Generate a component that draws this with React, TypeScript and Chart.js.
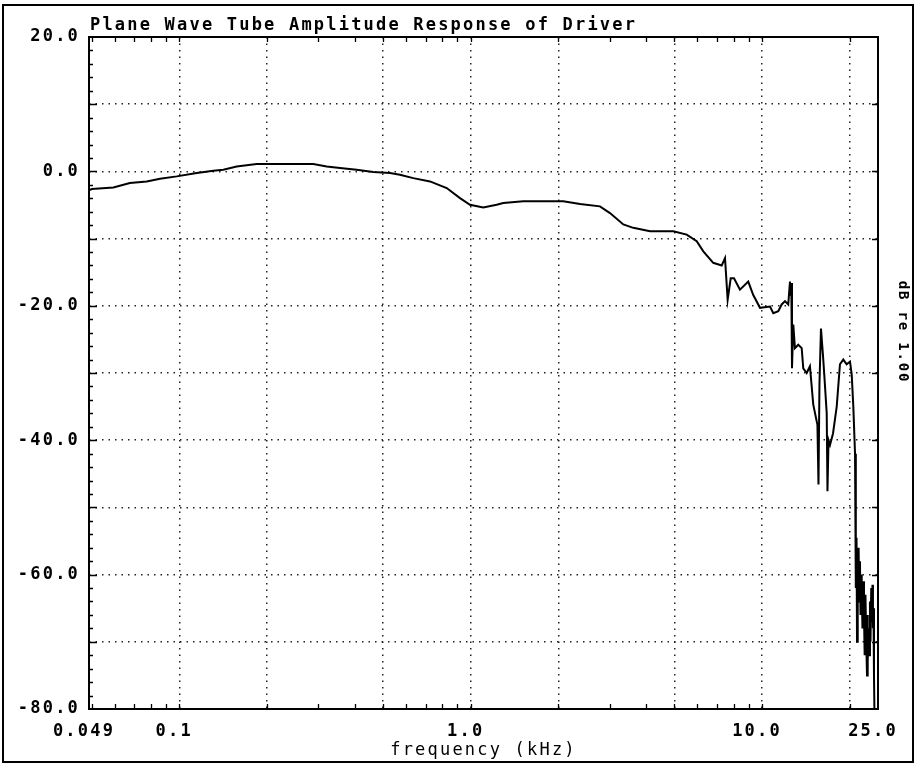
import React, { useEffect, useRef } from "react";
import { Chart, registerables } from "chart.js";

Chart.register(...registerables);

// ---- data ----
const FREQ_KHZ = [
  0.049, 0.0501, 0.0594, 0.0677, 0.0773, 0.0859, 0.098, 0.1148, 0.1309, 0.1416,
  0.1574, 0.1844, 0.2883, 0.3206, 0.3561, 0.4062, 0.4633, 0.5287, 0.5719, 0.6356,
  0.7252, 0.8276, 0.9192, 0.9947, 1.105, 1.228, 1.294, 1.516, 2.079, 2.373,
  2.778, 3.007, 3.341, 3.615, 4.126, 4.959, 5.513, 5.968, 6.287, 6.801,
  7.272, 7.463, 7.62, 7.806, 8.012, 8.399, 8.967, 9.33, 9.839, 10.65,
  10.93, 11.37, 11.68, 11.99, 12.3, 12.47, 12.55, 12.6, 12.67, 12.8,
  12.97, 13.31, 13.68, 13.85, 14.23, 14.6, 14.99, 15.49, 15.62, 15.74, 15.93,
  16.18, 16.35, 16.67, 16.77, 16.91, 17.11, 17.52, 18.04, 18.51, 19.0,
  19.52, 20.04, 20.31, 20.57, 20.85, 20.95, 21.01, 21.1, 21.18, 21.26, 21.34,
  21.45, 21.55, 21.68, 21.77, 21.86, 21.98, 22.11, 22.25, 22.38, 22.5, 22.64,
  22.78, 22.92, 23.0, 23.09, 23.2, 23.37, 23.46, 23.56, 23.7, 23.84, 23.93,
  24.02, 24.12, 24.22, 24.3, 24.41, 24.8, 25.0,
];
const LEVEL_DB = [
  -2.8, -2.63, -2.38, -1.74, -1.49, -1.09, -0.74, -0.25, 0.1, 0.25,
  0.74, 1.09, 1.09, 0.74, 0.5, 0.25, -0.1, -0.25, -0.5, -1.0,
  -1.49, -2.48, -3.97, -4.96, -5.36, -4.96, -4.71, -4.46, -4.46, -4.86,
  -5.2, -6.2, -7.9, -8.4, -8.9, -8.9, -9.4, -10.4, -11.9, -13.6,
  -14.0, -12.9, -19.1, -15.9, -15.9, -17.6, -16.4, -18.4, -20.3, -20.1,
  -21.1, -20.8, -19.8, -19.3, -19.8, -16.4, -18.5, -16.6, -29.3, -22.8,
  -26.3, -25.8, -26.3, -29.3, -30.0, -29.0, -34.7, -37.7, -46.6, -31.7, -23.4,
  -27.3, -30.2, -36.0, -47.6, -40.0, -40.7, -39.0, -35.0, -28.7, -28.0,
  -28.7, -28.3, -30.2, -35.0, -42.0, -55.0, -62.0, -54.5, -70.0, -57.0, -63.0,
  -56.0, -64.0, -58.0, -66.0, -60.0, -62.0, -68.0, -61.0, -66.0, -72.0, -63.0,
  -70.0, -75.0, -66.0, -73.0, -68.0, -72.0, -64.0, -70.0, -62.0, -67.0,
  -61.5, -68.0, -65.0, -75.0, -80.0, -80.0, -80.0,
];

const X_GRID = [0.049, 0.1, 0.2, 0.5, 1, 2, 5, 10, 20, 25];
const X_LABEL_VALUES = [0.049, 0.1, 1, 10, 25];
const X_LABEL_TEXT = ["0.049", "0.1", "1.0", "10.0", "25.0"];
const X_MINOR = [
  0.05, 0.06, 0.07, 0.08, 0.09, 0.1, 0.2, 0.3, 0.4, 0.5, 0.6, 0.7, 0.8, 0.9,
  1, 2, 3, 4, 5, 6, 7, 8, 9, 10, 20,
];
const Y_LABELS = [20, 0, -20, -40, -60, -80];
const Y_MINOR = [
  18, 16, 14, 12, 10, 8, 6, 4, 2, 0, -2, -4, -6, -8, -10, -12, -14, -16, -18,
  -20, -22, -24, -26, -28, -30, -32, -34, -36, -38, -40, -42, -44, -46, -48,
  -50, -52, -54, -56, -58, -60, -62, -64, -66, -68, -70, -72, -74, -76, -78,
];

const TITLE = "Plane Wave Tube Amplitude Response of Driver";
const X_TITLE = "frequency (kHz)";
const Y_RIGHT_TITLE = "dB re 1.00";

const FONT = '"DejaVu Sans Mono", "Liberation Mono", monospace';
const SPACING = "2.2px";

const spacingPlugin = {
  id: "spacingPlugin",
  beforeLayout(chart: any) {
    chart.ctx.letterSpacing = SPACING;
  },
  beforeDraw(chart: any) {
    chart.ctx.letterSpacing = SPACING;
  },
};

const decorPlugin = {
  id: "decorPlugin",
  afterDraw(chart: any) {
    const { ctx, chartArea: a, scales } = chart;
    const xs = scales.x;
    const ys = scales.y;
    ctx.save();
    ctx.setLineDash([]);
    ctx.strokeStyle = "#000";
    // plot frame
    ctx.lineWidth = 2;
    ctx.strokeRect(a.left, a.top, a.right - a.left, a.bottom - a.top);
    // inner tick marks
    ctx.lineWidth = 1.3;
    ctx.beginPath();
    for (const v of X_MINOR) {
      const px = Math.round(xs.getPixelForValue(v)) + 0.5;
      ctx.moveTo(px, a.bottom);
      ctx.lineTo(px, a.bottom - 5);
      ctx.moveTo(px, a.top);
      ctx.lineTo(px, a.top + 5);
    }
    for (const v of Y_MINOR) {
      const py = Math.round(ys.getPixelForValue(v)) + 0.5;
      const major = v % 10 === 0;
      ctx.moveTo(a.left, py);
      ctx.lineTo(a.left + (major ? 8 : 4), py);
      if (major) {
        ctx.moveTo(a.right, py);
        ctx.lineTo(a.right - 6, py);
      }
    }
    ctx.stroke();
    // outer frame of the picture
    ctx.lineWidth = 2;
    ctx.strokeRect(3, 5, 910, 757);
    // title
    ctx.fillStyle = "#000";
    ctx.letterSpacing = SPACING;
    ctx.font = `bold 17px ${FONT}`;
    ctx.textAlign = "left";
    ctx.textBaseline = "alphabetic";
    ctx.fillText(TITLE, a.left + 1, 30);
    // right axis label, rotated
    ctx.letterSpacing = "1.8px";
    ctx.font = `bold 14px ${FONT}`;
    ctx.translate(903, 332);
    ctx.rotate(Math.PI / 2);
    ctx.textAlign = "center";
    ctx.textBaseline = "middle";
    ctx.fillText(Y_RIGHT_TITLE, 0, 0);
    ctx.restore();
  },
};

export default function App() {
  const ref = useRef<HTMLCanvasElement | null>(null);

  useEffect(() => {
    if (!ref.current) return;
    const gridColor = (c: any) =>
      c.tick && (c.tick.value === X_GRID[0] || c.tick.value === X_GRID[X_GRID.length - 1])
        ? "rgba(0,0,0,0)"
        : "#222";
    const chart = new Chart(ref.current, {
      type: "line",
      data: {
        datasets: [
          {
            label: "Amplitude",
            data: FREQ_KHZ.map((f, i) => ({ x: f, y: LEVEL_DB[i] })),
            borderColor: "#000",
            borderWidth: 2,
            pointRadius: 0,
            tension: 0,
            fill: false,
          },
        ],
      },
      options: {
        animation: false,
        responsive: false,
        devicePixelRatio: 1,
        layout: { padding: { top: 37, left: 0, right: 0, bottom: 0 } },
        plugins: {
          legend: { display: false },
          tooltip: { enabled: false },
          title: { display: false },
        },
        scales: {
          x: {
            type: "logarithmic",
            position: "bottom",
            min: 0.049,
            max: 25,
            afterBuildTicks: (s: any) => {
              s.ticks = X_GRID.map((v) => ({ value: v }));
            },
            afterFit: (s: any) => {
              s.height = 57;
            },
            grid: { color: gridColor, lineWidth: 1.5, drawTicks: false },
            border: { display: false, dash: [1.5, 5] },
            ticks: {
              autoSkip: false,
              maxRotation: 0,
              minRotation: 0,
              padding: 12,
              labelOffset: -5,
              color: "#000",
              font: { family: FONT, size: 17, weight: "bold" },
              callback: (v: any) => {
                const i = X_LABEL_VALUES.indexOf(Number(v));
                return i >= 0 ? X_LABEL_TEXT[i] : "";
              },
            },
            title: {
              display: true,
              text: X_TITLE,
              color: "#000",
              font: { family: FONT, size: 17, weight: "normal" },
              padding: { top: 0, bottom: 5 },
            },
          },
          y: {
            type: "linear",
            position: "left",
            min: -80,
            max: 20,
            afterFit: (s: any) => {
              s.width = 89;
            },
            grid: { color: gridColor, lineWidth: 1.5, drawTicks: false },
            border: { display: false, dash: [1.5, 5] },
            ticks: {
              stepSize: 10,
              autoSkip: false,
              padding: 9,
              color: "#000",
              font: { family: FONT, size: 17, weight: "bold" },
              callback: (v: any) =>
                Y_LABELS.includes(Number(v)) ? Number(v).toFixed(1) : "",
            },
          },
          yRight: {
            type: "linear",
            position: "right",
            display: true,
            min: -80,
            max: 20,
            afterFit: (s: any) => {
              s.width = 38;
            },
            grid: { display: false, drawTicks: false },
            border: { display: false },
            ticks: { display: false },
          },
        },
      } as any,
      plugins: [spacingPlugin, decorPlugin],
    });
    return () => chart.destroy();
  }, []);

  return (
    <canvas
      ref={ref}
      width={916}
      height={766}
      style={{ position: "fixed", left: 0, top: 0, width: 916, height: 766, display: "block", background: "#fff" }}
    />
  );
}
